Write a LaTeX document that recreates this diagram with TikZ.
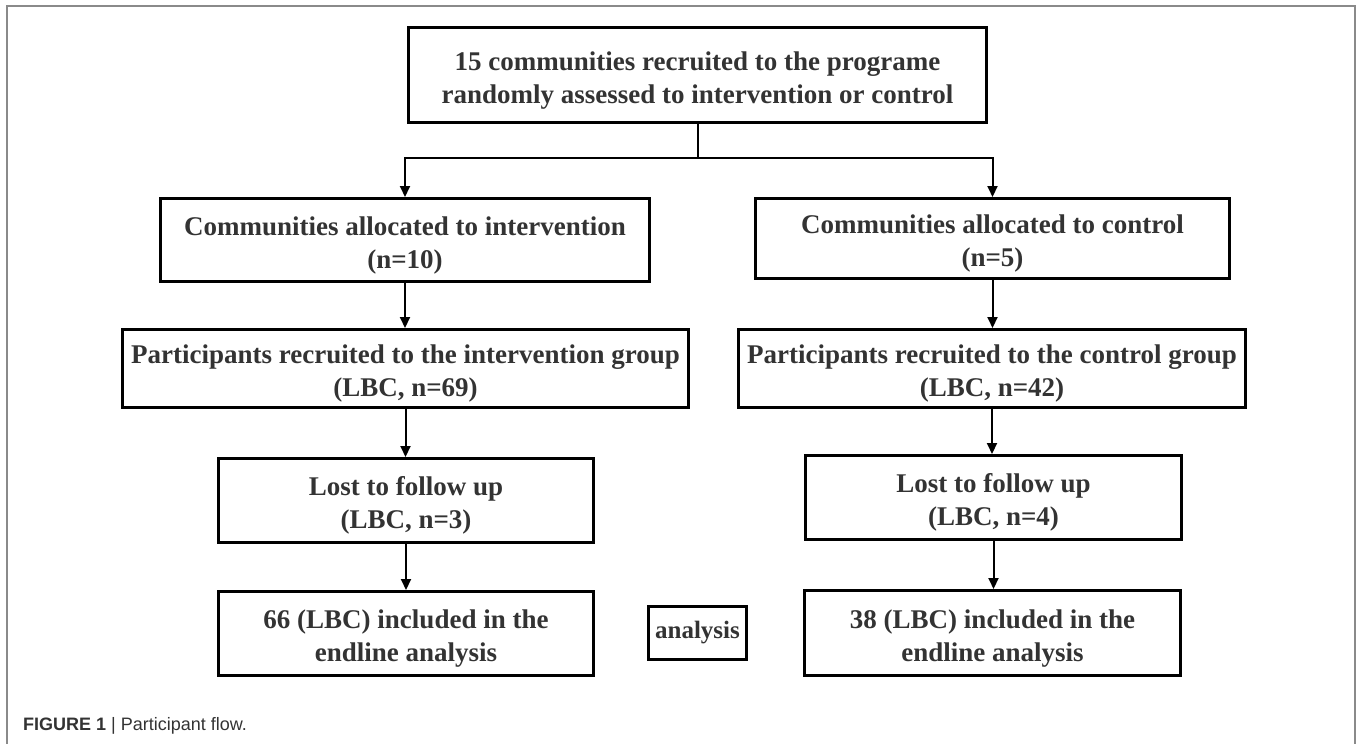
\documentclass[tikz,border=0pt]{standalone}
\usepackage{fontspec}
\setmainfont{Liberation Serif}
\newfontfamily\capfont{Liberation Sans}
\usetikzlibrary{arrows.meta}
\definecolor{txt}{HTML}{333333}
\definecolor{framec}{HTML}{8A8A8A}
\newcommand{\twolines}[2]{\raisebox{-5pt}[\height][\depth]{\begin{tabular}{@{}c@{}}#1\\#2\end{tabular}}}
\begin{document}
\begin{tikzpicture}[x=1pt,y=-1pt,
  box/.style={draw=black, line width=3pt, rectangle, inner sep=0pt, align=center,
    text=txt, font=\bfseries\fontsize{27}{33}\selectfont},
  conn/.style={line width=2pt, draw=black},
  arr/.style={conn, -{Triangle[width=10pt,length=11pt]}}]
\useasboundingbox (0,0) rectangle (1357,744);
\draw[framec, line width=1.5pt] (7,744) -- (7,6) -- (1355,6) -- (1355,744);

\node[box, minimum width=578pt, minimum height=95pt] (top) at (697.5,75)
  {\twolines{15 communities recruited to the programe}{randomly assessed to intervention or control}};

\node[box, minimum width=489pt, minimum height=83pt] (b2L) at (405,240)
  {\twolines{Communities allocated to intervention}{(n=10)}};
\node[box, minimum width=474pt, minimum height=80pt] (b2R) at (992.5,238.5)
  {\twolines{Communities allocated to control}{(n=5)}};

\node[box, minimum width=566pt, minimum height=78pt] (b3L) at (405.5,368.5)
  {\twolines{Participants recruited to the intervention group}{(LBC, n=69)}};
\node[box, minimum width=507pt, minimum height=78pt] (b3R) at (992,368.5)
  {\twolines{Participants recruited to the control group}{(LBC, n=42)}};

\node[box, minimum width=375pt, minimum height=84pt] (b4L) at (406,500.5)
  {\twolines{Lost to follow up}{(LBC, n=3)}};
\node[box, minimum width=376pt, minimum height=84pt] (b4R) at (993.5,497.5)
  {\twolines{Lost to follow up}{(LBC, n=4)}};

\node[box, minimum width=375pt, minimum height=84pt] (b5L) at (406,633.5)
  {\twolines{66 (LBC) included in the}{endline analysis}};
\node[box, minimum width=376pt, minimum height=85pt] (b5R) at (992.5,633)
  {\twolines{38 (LBC) included in the}{endline analysis}};

\node[box, minimum width=98pt, minimum height=53pt, font=\bfseries\fontsize{25}{30}\selectfont] (an) at (697.5,633)
  {analysis};

\draw[conn] (top.south) -- ++(0,34) coordinate (split);
\draw[arr] (split) -| (b2L.north);
\draw[arr] (split) -| (b2R.north);

\draw[arr] (b2L.south) -- (b2L.south |- b3L.north);
\draw[arr] (b3L.south) -- (b3L.south |- b4L.north);
\draw[arr] (b4L.south) -- (b4L.south |- b5L.north);
\draw[arr] (b2R.south) -- (b2R.south |- b3R.north);
\draw[arr] (b3R.south) -- (b3R.south |- b4R.north);
\draw[arr] (b4R.south) -- (b4R.south |- b5R.north);

\node[anchor=west, inner sep=0pt, text=txt, font=\capfont\fontsize{18}{22}\selectfont] (cap) at (23,726)
  {\textbf{FIGURE 1} | Participant flow.};
\end{tikzpicture}
\end{document}
